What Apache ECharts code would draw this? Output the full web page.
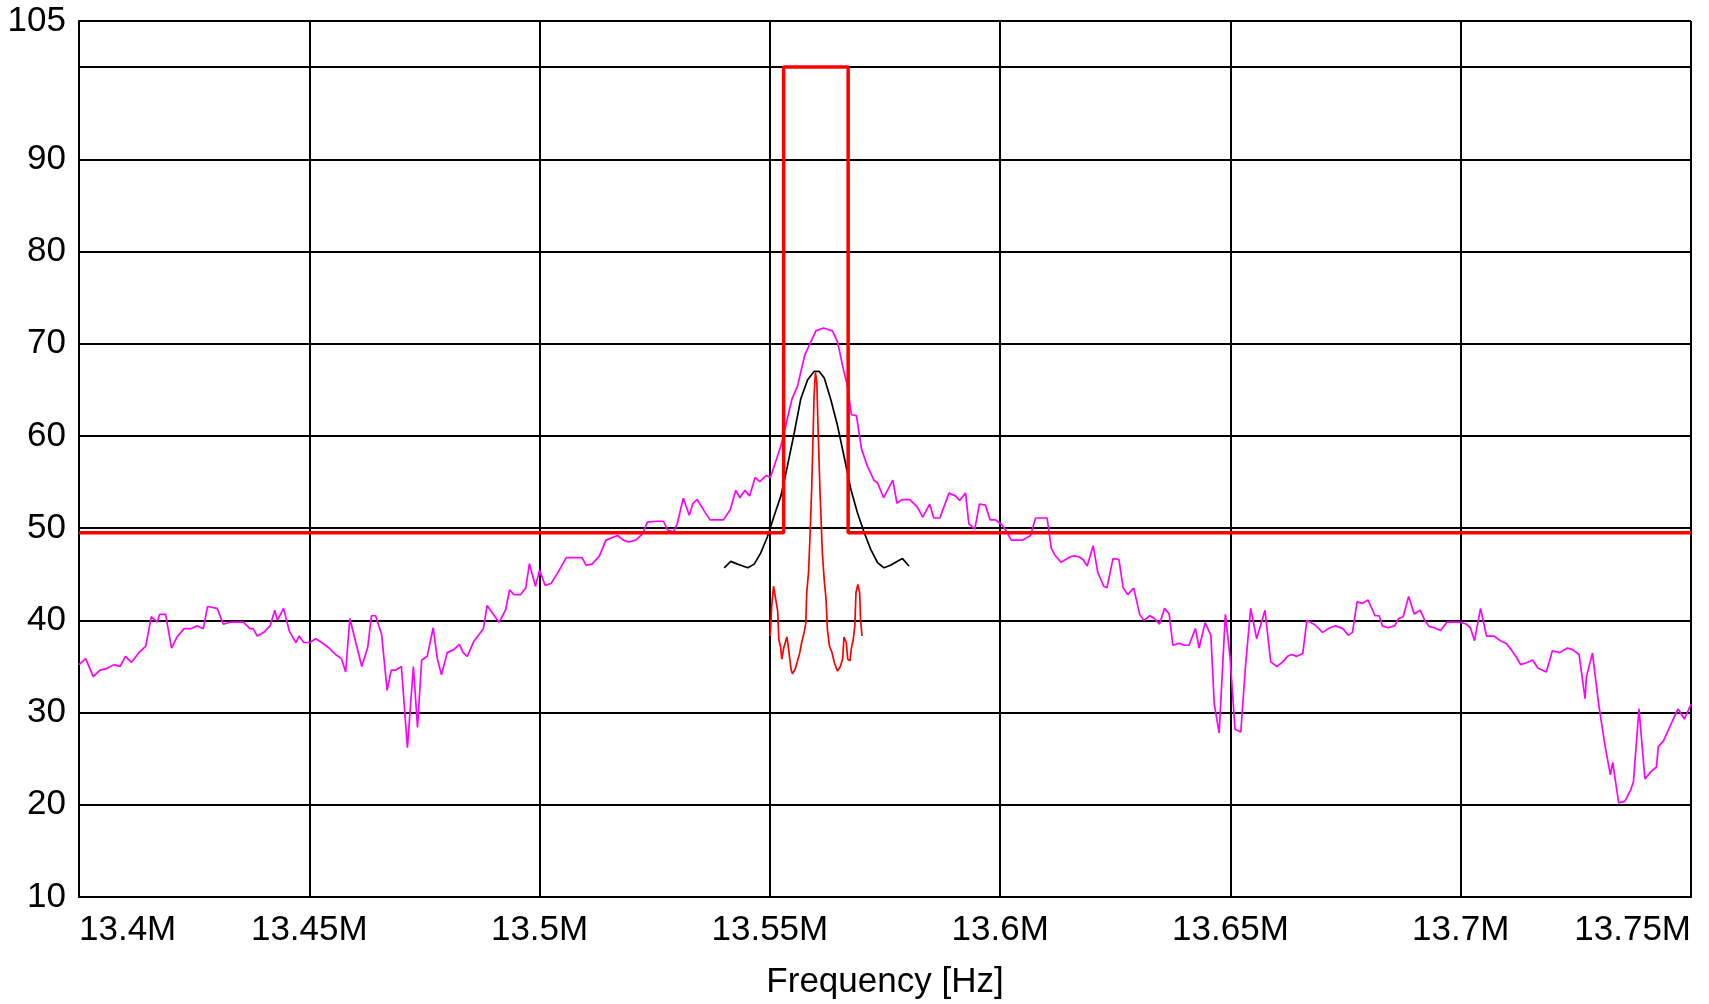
<!DOCTYPE html>
<html>
<head>
<meta charset="utf-8">
<script src="https://cdn.jsdelivr.net/npm/echarts@6/dist/echarts.min.js"></script>
<style>
  html, body { margin: 0; padding: 0; background: #fff; }
  #container { width: 1709px; height: 1004px; }
</style>
</head>
<body>
<div id="container"></div>
<script>
// frequencies in kHz, levels in dB
var xTicks = [13400, 13450, 13500, 13550, 13600, 13650, 13700, 13750];
var yTicks = [10, 20, 30, 40, 50, 60, 70, 80, 90, 100, 105];

// limit mask
var limitLine = [[13400, 49.5], [13553, 49.5], [13553, 100], [13567, 100], [13567, 49.5], [13750, 49.5]];

// wide sweep (magenta)
var sweepTrace = [
    [13400.0, 35.2], [13401.45, 35.85], [13403.1, 33.9], [13404.56, 34.6], [13406.15, 34.8], [13407.6, 35.2],
    [13408.9, 35.0], [13410.1, 36.1], [13411.4, 35.45], [13413.0, 36.5], [13414.5, 37.2], [13415.7, 40.4],
    [13417.0, 39.8], [13417.5, 40.65], [13418.8, 40.65], [13420.1, 37.0], [13421.3, 38.2], [13422.8, 39.1],
    [13424.2, 39.1], [13425.7, 39.4], [13427.0, 39.1], [13427.9, 41.5], [13430.0, 41.3], [13431.3, 39.6],
    [13432.9, 39.8], [13435.7, 39.8], [13437.1, 39.1], [13437.8, 39.1], [13438.7, 38.3], [13440.0, 38.65],
    [13441.5, 39.4], [13442.5, 41.1], [13443.1, 40.0], [13444.4, 41.3], [13445.7, 38.8], [13447.1, 37.6],
    [13447.8, 38.3], [13448.8, 37.6], [13450.1, 37.6], [13451.4, 38.0], [13452.7, 37.6], [13454.3, 37.0],
    [13455.7, 36.3], [13457.0, 35.85], [13457.9, 34.4], [13458.8, 40.2], [13460.1, 37.6], [13461.4, 35.0],
    [13462.7, 37.1], [13463.5, 40.5], [13464.4, 40.5], [13465.7, 38.5], [13466.9, 32.4], [13467.8, 34.6],
    [13468.7, 34.6], [13470.0, 35.0], [13471.3, 26.2], [13472.6, 35.0], [13473.5, 28.4], [13474.4, 35.7],
    [13475.6, 36.1], [13476.9, 39.2], [13477.8, 35.85], [13478.7, 34.1], [13479.95, 36.5], [13481.3, 36.8],
    [13482.6, 37.4], [13483.4, 36.5], [13484.3, 36.1], [13485.7, 37.7], [13487.8, 39.1], [13488.6, 41.6],
    [13491.2, 39.8], [13492.6, 41.1], [13493.5, 43.3], [13494.4, 42.8], [13495.9, 42.8], [13497.0, 43.5],
    [13497.8, 46.15], [13499.1, 43.7], [13500.0, 45.45], [13501.2, 43.8], [13502.5, 44.0], [13504.0, 45.2],
    [13505.8, 46.8], [13509.2, 46.8], [13510.1, 46.0], [13511.4, 46.1], [13513.0, 47.0], [13514.4, 48.7],
    [13516.95, 49.2], [13518.2, 48.7], [13519.3, 48.5], [13520.9, 48.7], [13522.4, 49.4], [13523.4, 50.65],
    [13525.2, 50.75], [13526.9, 50.75], [13527.8, 49.8], [13529.1, 49.6], [13529.9, 50.5], [13531.2, 53.25],
    [13532.5, 51.4], [13533.3, 52.7], [13534.2, 53.1], [13535.7, 51.9], [13537.0, 50.9], [13539.9, 50.9],
    [13541.4, 52.0], [13542.6, 54.1], [13543.5, 53.3], [13544.6, 54.1], [13545.6, 53.5], [13546.8, 55.5],
    [13547.8, 55.05], [13549.2, 55.7], [13550.1, 55.5], [13552.4, 58.9], [13554.8, 64.0], [13556.0, 65.4],
    [13557.6, 68.8], [13560.0, 71.4], [13561.65, 71.7], [13563.6, 71.4], [13564.7, 70.2], [13565.8, 67.6],
    [13566.9, 65.3], [13567.7, 62.3], [13568.8, 62.2], [13569.9, 58.6], [13571.2, 56.7], [13572.6, 55.2],
    [13573.4, 54.9], [13574.7, 53.3], [13576.7, 55.2], [13577.6, 52.7], [13578.7, 53.1], [13580.4, 53.1],
    [13582.0, 52.3], [13583.2, 51.2], [13584.7, 52.6], [13585.6, 51.1], [13586.9, 51.1], [13588.9, 53.8],
    [13590.3, 53.5], [13591.2, 53.0], [13592.5, 53.8], [13593.2, 50.5], [13594.5, 49.9], [13595.5, 52.6],
    [13596.8, 52.5], [13597.8, 50.9], [13599.0, 50.9], [13600.3, 50.4], [13601.2, 49.8], [13602.4, 48.7],
    [13604.8, 48.7], [13606.6, 49.2], [13607.7, 51.1], [13610.2, 51.1], [13611.1, 47.8], [13612.0, 47.0],
    [13613.2, 46.3], [13614.9, 46.8], [13616.0, 47.0], [13617.1, 46.9], [13618.0, 46.6], [13618.9, 45.9],
    [13620.2, 48.1], [13621.2, 45.2], [13622.5, 43.7], [13623.2, 43.55], [13624.5, 46.7], [13625.8, 46.6],
    [13626.7, 43.55], [13627.7, 42.8], [13629.0, 43.5], [13630.3, 40.65], [13631.2, 40.0], [13632.5, 40.5],
    [13633.5, 40.2], [13634.6, 39.6], [13635.7, 41.3], [13636.7, 40.7], [13637.5, 37.3], [13638.9, 37.5],
    [13640.0, 37.3], [13641.0, 37.3], [13642.4, 39.1], [13643.2, 37.0], [13644.5, 39.75], [13645.75, 38.4],
    [13646.5, 30.9], [13647.55, 27.8], [13648.9, 40.65], [13649.9, 36.1], [13651.0, 28.2], [13652.25, 27.9],
    [13653.3, 35.2], [13654.4, 41.3], [13655.7, 38.0], [13657.5, 41.1], [13658.75, 35.5], [13660.1, 35.0],
    [13661.35, 35.5], [13662.4, 36.1], [13663.3, 36.3], [13664.4, 36.1], [13665.7, 36.4], [13666.6, 40.0],
    [13668.4, 39.5], [13670.0, 38.7], [13671.6, 39.2], [13672.8, 39.4], [13674.4, 39.1], [13675.6, 38.4],
    [13676.5, 38.7], [13677.5, 42.0], [13678.7, 41.85], [13679.9, 42.2], [13681.4, 40.5], [13682.3, 40.5],
    [13683.0, 39.4], [13684.2, 39.2], [13685.65, 39.4], [13686.5, 40.2], [13687.5, 40.4], [13688.7, 42.6],
    [13689.9, 40.7], [13691.2, 41.1], [13692.2, 40.0], [13693.1, 39.35], [13694.3, 39.2], [13695.65, 38.9],
    [13697.0, 39.8], [13699.8, 39.8], [13701.2, 39.6], [13702.1, 39.2], [13703.0, 37.8], [13704.3, 41.3],
    [13705.6, 38.3], [13707.2, 38.3], [13708.6, 37.8], [13709.9, 37.5], [13711.0, 36.8], [13712.1, 36.0],
    [13713.0, 35.2], [13714.3, 35.4], [13715.6, 35.7], [13716.8, 34.8], [13718.6, 34.4], [13719.9, 36.7],
    [13721.5, 36.5], [13723.2, 37.0], [13724.4, 36.8], [13725.7, 36.3], [13727.0, 31.5], [13727.3, 33.9],
    [13728.6, 36.45], [13729.9, 31.1], [13731.3, 26.5], [13732.5, 23.25], [13733.0, 24.6], [13734.3, 20.2],
    [13735.65, 20.4], [13736.9, 21.6], [13737.5, 22.5], [13738.7, 30.4], [13740.0, 22.8], [13741.3, 23.6],
    [13742.5, 24.1], [13742.9, 26.3], [13744.0, 26.9], [13745.6, 28.7], [13747.2, 30.4], [13748.55, 29.3],
    [13750.0, 30.9]
];

// carrier envelope (black)
var envelopeTrace = [
    [13540.1, 45.7], [13541.5, 46.4], [13543.0, 46.1], [13545.2, 45.7], [13546.6, 46.1], [13548.0, 47.3],
    [13549.5, 49.1], [13550.9, 51.3], [13552.4, 53.5], [13553.8, 56.7], [13555.3, 60.35], [13556.7, 64.0],
    [13558.2, 66.1], [13559.6, 67.0], [13560.7, 67.0], [13561.8, 66.3], [13563.2, 64.0], [13564.7, 61.1],
    [13566.1, 57.8], [13567.6, 54.2], [13569.0, 51.7], [13570.5, 49.5], [13571.9, 47.7], [13573.4, 46.25],
    [13574.8, 45.7], [13576.3, 46.0], [13577.7, 46.4], [13578.8, 46.7], [13580.2, 45.9]
];

// narrow band trace (thin red)
var carrierTrace = [
    [13550.07, 38.3], [13550.4, 41.5], [13550.8, 43.7], [13551.2, 43.9], [13551.7, 41.0], [13551.95, 37.9],
    [13552.3, 37.2], [13552.6, 35.8], [13553.0, 37.0], [13553.7, 38.2], [13554.05, 37.0], [13554.6, 34.7],
    [13554.9, 34.2], [13555.5, 34.7], [13556.0, 35.6], [13556.5, 36.5], [13556.9, 37.6], [13557.45, 38.7],
    [13557.8, 39.7], [13558.0, 43.0], [13558.4, 45.2], [13558.75, 49.5], [13559.1, 54.6], [13559.4, 60.3],
    [13559.6, 64.3], [13559.9, 66.9], [13560.2, 65.8], [13560.5, 60.3], [13560.9, 53.8], [13561.4, 47.3],
    [13561.8, 44.4], [13562.2, 42.3], [13562.5, 39.0], [13562.95, 37.2], [13563.5, 36.5], [13564.0, 35.4],
    [13564.3, 35.6], [13564.7, 34.5], [13565.3, 35.0], [13565.8, 35.8], [13566.1, 38.2], [13566.6, 37.6],
    [13566.9, 35.8], [13567.4, 35.6], [13567.7, 37.0], [13568.1, 37.9], [13568.45, 39.4], [13568.7, 43.0],
    [13569.1, 43.9], [13569.5, 43.0], [13569.7, 40.1], [13570.0, 38.3]
];

var labelFont = {
    fontFamily: 'Liberation Sans, Arial, sans-serif',
    fontSize: 35,
    color: '#000'
};

var option = {
    animation: false,
    backgroundColor: '#fff',
    grid: {
        left: 79,
        right: 18,
        top: 21,
        bottom: 107,
        containLabel: false,
        outerBoundsMode: 'none'
    },
    xAxis: {
        type: 'value',
        min: xTicks[0],
        max: xTicks[xTicks.length - 1],
        interval: 50,
        name: 'Frequency [Hz]',
        nameLocation: 'middle',
        nameGap: 68,
        nameTextStyle: labelFont,
        axisLine: { lineStyle: { color: '#000', width: 2.2 } },
        axisTick: { show: false },
        splitLine: { show: true, lineStyle: { color: '#000', width: 2 } },
        axisLabel: {
            fontFamily: labelFont.fontFamily,
            fontSize: labelFont.fontSize,
            color: '#000',
            margin: 16,
            showMinLabel: true,
            showMaxLabel: true,
            alignMinLabel: 'left',
            alignMaxLabel: 'right',
            formatter: function (v) {
                return (v / 1000) + 'M';
            }
        }
    },
    yAxis: {
        type: 'value',
        min: yTicks[0],
        max: yTicks[yTicks.length - 1],
        interval: 10,
        axisLine: { show: true, lineStyle: { color: '#000', width: 2 } },
        axisTick: { show: false },
        splitLine: { show: true, lineStyle: { color: '#000', width: 2 } },
        axisLabel: {
            fontFamily: labelFont.fontFamily,
            fontSize: labelFont.fontSize,
            color: '#000',
            margin: 13,
            showMinLabel: true,
            showMaxLabel: true,
            formatter: function (v) {
                return v === 100 ? '' : String(v);
            }
        }
    },
    series: [
        {
            name: 'sweep',
            type: 'line',
            data: sweepTrace,
            showSymbol: false,
            lineStyle: { color: '#ff00ff', width: 1.7 },
            z: 2
        },
        {
            name: 'envelope',
            type: 'line',
            data: envelopeTrace,
            showSymbol: false,
            lineStyle: { color: '#000', width: 1.7 },
            z: 3
        },
        {
            name: 'limit',
            type: 'line',
            data: limitLine,
            showSymbol: false,
            lineStyle: { color: '#ff0000', width: 3.5 },
            z: 4
        },
        {
            name: 'carrier',
            type: 'line',
            data: carrierTrace,
            showSymbol: false,
            lineStyle: { color: '#ff0000', width: 1.7 },
            z: 5
        }
    ]
};

var myChart = echarts.init(document.getElementById('container'));
myChart.setOption(option);
</script>
</body>
</html>
